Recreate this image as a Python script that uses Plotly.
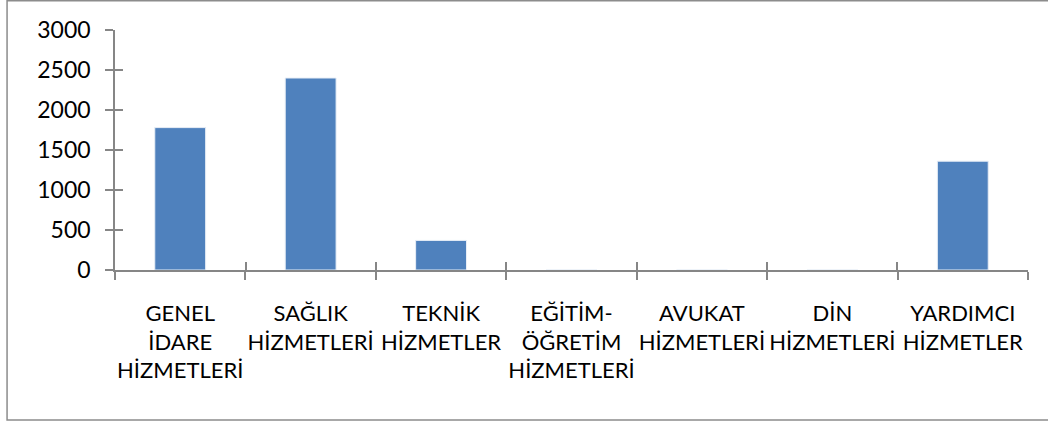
import plotly.graph_objects as go

categories = [
    "GENEL<br>İDARE<br>HİZMETLERİ",
    "SAĞLIK<br>HİZMETLERİ",
    "TEKNİK<br>HİZMETLER",
    "EĞİTİM-<br>ÖĞRETİM<br>HİZMETLERİ",
    "AVUKAT<br>HİZMETLERİ",
    "DİN<br>HİZMETLERİ",
    "YARDIMCI<br>HİZMETLER",
]
values = [1780, 2400, 370, 0, 0, 0, 1360]
y_ticks = [0, 500, 1000, 1500, 2000, 2500, 3000]

W, H = 1048, 425
L, R, T, B = 115, 19.5, 30, 155
pw, ph = W - L - R, H - T - B
n = len(categories)
eps_x, eps_y = 0.001, 1

XFONT = dict(family="Lato, Open Sans, sans-serif", size=22, color="#000000")
YFONT = dict(family="Lato, Open Sans, sans-serif", size=23, color="#000000")
AX = "#868686"

fig = go.Figure()
fig.add_trace(go.Bar(
    x=categories, y=values,
    marker=dict(color="#4F81BD", line=dict(color="#E8EEF6", width=1)),
    width=0.39,
    showlegend=False,
))
# invisible helper trace for overlay axes (inside tick halves)
fig.add_trace(go.Scatter(x=categories, y=values, xaxis="x2", yaxis="y2",
                         mode="markers", marker=dict(opacity=0), hoverinfo="skip",
                         showlegend=False))

fig.update_layout(
    width=W, height=H,
    margin=dict(l=L, r=R, t=T, b=B, pad=0),
    paper_bgcolor="white", plot_bgcolor="white",
    font=XFONT,
    xaxis=dict(
        type="category", categoryorder="array", categoryarray=categories,
        range=[-0.5, n - 0.5],
        showline=True, linecolor=AX, linewidth=1.5,
        ticks="outside", ticklen=8, tickwidth=1.5, tickcolor=AX,
        tickson="boundaries", showgrid=False, zeroline=False,
        tickfont=XFONT, tickangle=0, ticklabelstandoff=23,
    ),
    yaxis=dict(
        range=[0, 3000], tickvals=y_ticks, ticktext=[str(v) for v in y_ticks],
        showline=True, linecolor=AX, linewidth=1.5,
        ticks="outside", ticklen=8, tickwidth=1.5, tickcolor=AX,
        showgrid=False, zeroline=False, tickfont=YFONT, ticklabelstandoff=10,
    ),
    xaxis2=dict(
        type="category", categoryorder="array", categoryarray=categories,
        range=[-0.5 - eps_x, n - 0.5 + eps_x],
        overlaying="x", anchor="y2", side="bottom",
        showline=False, ticks="inside", ticklen=8, tickwidth=1.5, tickcolor=AX,
        tickson="boundaries", showticklabels=False, showgrid=False, zeroline=False,
    ),
    yaxis2=dict(
        range=[-eps_y, 3000 + eps_y], tickvals=y_ticks, overlaying="y", anchor="x2",
        side="left",
        showline=False, ticks="inside", ticklen=8, tickwidth=1.5, tickcolor=AX,
        showticklabels=False, showgrid=False, zeroline=False,
    ),
)

# outer chart-area frame
fig.add_shape(type="rect", xref="paper", yref="paper",
              x0=(7 - L) / pw, x1=(W + 10 - L) / pw,
              y0=(H - B - 420) / ph, y1=(H - B - 0.8) / ph,
              line=dict(color="#8C8C8C", width=1.5), fillcolor="rgba(0,0,0,0)",
              layer="below")

fig.write_html(
    "out.html",
    config={"displayModeBar": False},
    post_script="document.body.style.margin='0';document.body.style.overflow='hidden';",
)
